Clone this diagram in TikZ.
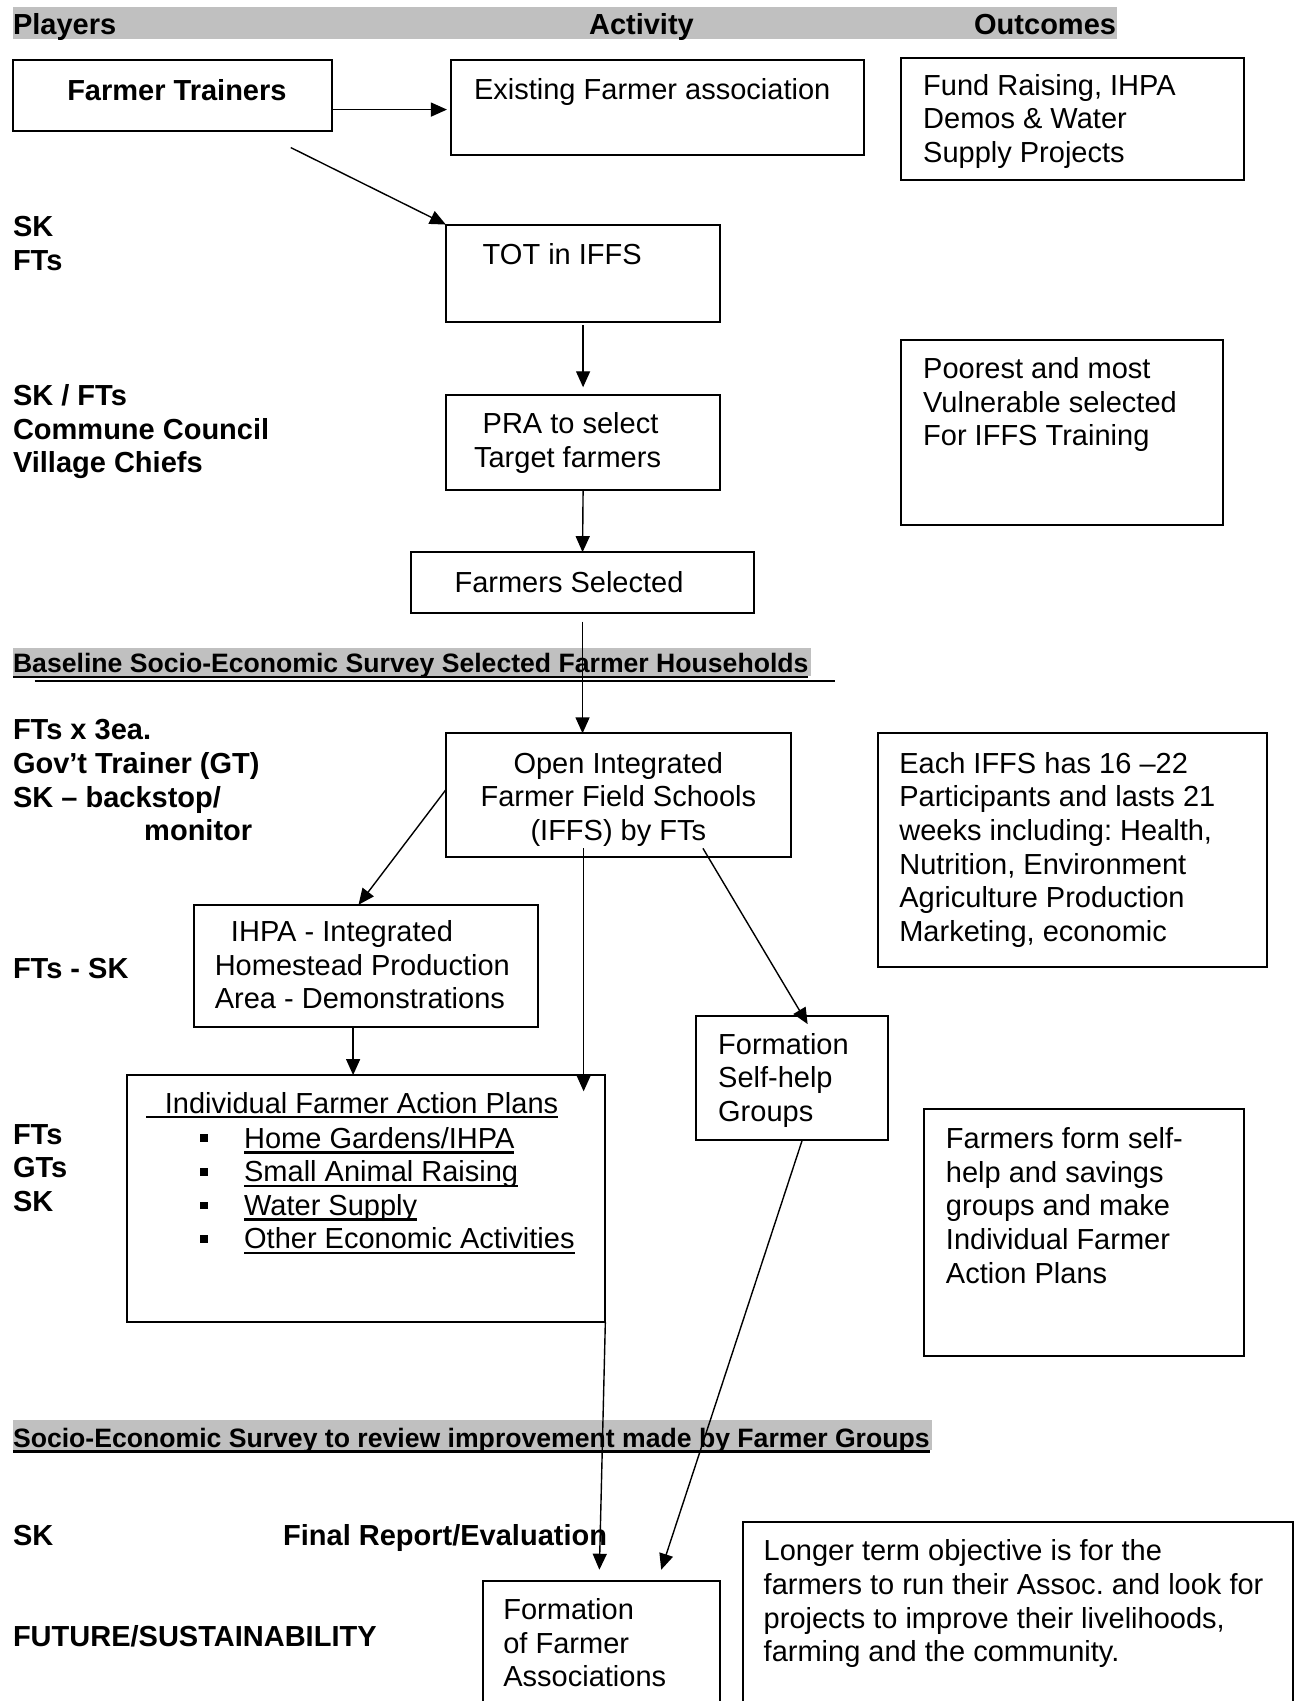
\documentclass[tikz,border=0pt]{standalone}
\usepackage{fontspec}
\setmainfont{Liberation Sans}
\usetikzlibrary{arrows.meta,fit,calc}
\frenchspacing
\newsavebox\ulbox
\newcommand\myul[2][2.7pt]{\sbox\ulbox{#2}\rlap{\rule[-#1]{\wd\ulbox}{1.2pt}}\usebox\ulbox}
\newcommand\mainfnt{\fontsize{14.5pt}{16.8pt}\selectfont}
\newcommand\secfnt{\fontsize{13.3pt}{15.3pt}\selectfont\bfseries}
\newcommand\sqb{\makebox[22.8pt][l]{\hspace*{0.8pt}\rule[3.1pt]{3.8pt}{3.8pt}}}
\definecolor{bandgray}{HTML}{C0C0C0}
\tikzset{
  box/.style={draw, line width=1pt, inner sep=0pt, outer sep=0pt},
  txt/.style={anchor=north west, inner sep=0pt, outer sep=0pt, align=left,
    yshift=10.06pt, font=\mainfnt, execute at begin node={\rule{0pt}{11.69pt}}},
  txtb/.style={txt, font=\mainfnt\bfseries},
  txtc/.style={txt, anchor=north, align=center},
  sect/.style={txt, font=\secfnt},
  arr/.style={line width=0.7pt, -{Triangle[length=8pt,width=7pt]}},
}
\begin{document}
\begin{tikzpicture}[x=0.5423pt, y=-0.5423pt]
\useasboundingbox (0,0) rectangle (1194,1568);
\fill[white] (0,0) rectangle (1194,1568);
\clip (0,0) rectangle (1194,1568);

% grey bands
\fill[bandgray] (12,6) rectangle (1030,36);
\fill[bandgray] (12,597) rectangle (748,623);
\fill[bandgray] (12,1309) rectangle (859,1337);
\draw[line width=1pt] (32,628) -- (770,628);

% headers
\node[txtb] (hplayers) at (12,29) {Players};
\node[txtb] (hactivity) at (543,29) {Activity};
\node[txtb] (houtcomes) at (898,29) {Outcomes};
\node[sect] (hbase) at (12,617) {\myul[2.8pt]{Baseline Socio-Economic Survey Selected Farmer Households}};
\node[sect] (hsocio) at (12,1331) {\myul[2.8pt]{Socio-Economic Survey to review improvement made by Farmer Groups}};

% boxes
\node[box, fit={(12,55)(306,121)}] (ft) {};
\node[box, fit={(416,55)(796,143)}] (efa) {};
\node[box, fit={(831,53)(1147,166)}] (fund) {};
\node[box, fit={(411,207)(664,297)}] (tot) {};
\node[box, fit={(411,364)(664,452)}] (pra) {};
\node[box, fit={(831,313)(1127,484)}] (poor) {};
\node[box, fit={(379,509)(695,565)}] (fs) {};
\node[box, fit={(411,676)(729,790)}] (open) {};
\node[box, fit={(809,676)(1168,891)}] (each) {};
\node[box, fit={(179,834)(496,947)}] (ihpa) {};
\node[box, fit={(642,937)(819,1051)}] (shg) {};
\node[box, fit={(117,991)(558,1219)}] (iap) {};
\node[box, fit={(852,1022)(1147,1250)}] (ff) {};
\node[box, fit={(445,1457)(664,1590)}] (fa) {};
\node[box, fit={(685,1403)(1192,1590)}] (lt) {};

% box texts
\node[txtb] (tft) at (62,90) {Farmer Trainers};
\node[txt] (tefa) at (437,89) {Existing Farmer association};
\node[txt] (tfund) at (851,87) {Fund Raising, IHPA\\Demos \& Water\\Supply Projects};
\node[txt] (ttot) at (445,241) {TOT in IFFS};
\node[txt] (tpra) at (437,399) {\hspace*{4.3pt}PRA to select\\Target farmers};
\node[txt] (tpoor) at (851,348) {Poorest and most\\Vulnerable selected\\For IFFS Training};
\node[txt] (tfs) at (419,543) {Farmers Selected};
\node[txtc] (topen) at (570,712) {Open Integrated\\Farmer Field Schools\\(IFFS) by FTs};
\node[txt] (teach) at (829,712) {Each IFFS has 16 –22\\Participants and lasts 21\\weeks including: Health,\\Nutrition, Environment\\Agriculture Production\\Marketing, economic};
\node[txt] (tihpa) at (198,867) {\hspace*{8.1pt}IHPA - Integrated\\Homestead Production\\Area - Demonstrations};
\node[txt] (tshg) at (662,971) {Formation\\Self-help\\Groups};
\node[txt] (tiap) at (135,1023) {\myul{\hspace*{9.2pt}Individual Farmer Action Plans}};
\node[txt] (tlist) at (183,1057.5) {%
  \sqb\myul{Home Gardens/IHPA}\\
  \sqb\myul{Small Animal Raising}\\
  \sqb\myul{Water Supply}\\
  \sqb\myul{Other Economic Activities}};
\node[txt] (tff) at (872,1058) {Farmers form self-\\help and savings\\groups and make\\Individual Farmer\\Action Plans};
\node[txt] (tfa) at (464,1492) {Formation\\of Farmer\\Associations};
\node[txt] (tlt) at (704,1438) {Longer term objective is for the\\farmers to run their Assoc. and look for\\projects to improve their livelihoods,\\farming and the community.};

% players column
\node[txtb] (p1) at (12,218) {SK\\FTs};
\node[txtb] (p2) at (12,373) {SK / FTs\\Commune Council\\Village Chiefs};
\node[txtb] (p3) at (12,682) {FTs x 3ea.\\Gov’t Trainer (GT)\\SK – backstop/\\\hspace*{65.6pt}monitor};
\node[txtb] (p4) at (12,899) {FTs - SK};
\node[txtb] (p5) at (12,1055) {FTs\\GTs\\SK};
\node[txtb] (p6) at (12,1422) {SK};
\node[txtb] (p7) at (261,1422) {Final Report/Evaluation};
\node[txtb] (p8) at (12,1515) {FUTURE/SUSTAINABILITY};

% connectors
\draw[arr] ($(ft.east)+(0,13)$) -- ($(efa.west)+(-4,2)$);
\coordinate (d1) at (268,136);
\draw[arr] (d1) -- (tot.north west);
\draw[arr] ($(tot.south)+(0,3)$) -- ($(pra.north)+(0,-7)$);
\draw[arr] (pra.south) -- (fs.north);
\draw[arr] ($(fs.south)+(0,8)$) -- (fs.south |- open.north);
\draw[arr] ($(open.west)+(0,-5)$) -- ($(ihpa.north)+(-7,0)$);
\coordinate (c7) at ($(ihpa.south)+(-12,0)$);
\draw[arr] (c7) -- (c7 |- iap.north);
\coordinate (c8) at (538,782);
\coordinate (c8e) at (538,1006);
\draw[arr] (c8) -- (c8e);
\coordinate (c9) at (648,782);
\draw[arr] (c9) -- ($(shg.north)+(14,7)$);
\draw[arr] (iap.south east) -- ($(fa.north)+(-2,-10)$);
\draw[arr] ($(shg.south)+(9,0)$) -- ($(fa.north)+(55,-10)$);
\end{tikzpicture}
\end{document}
